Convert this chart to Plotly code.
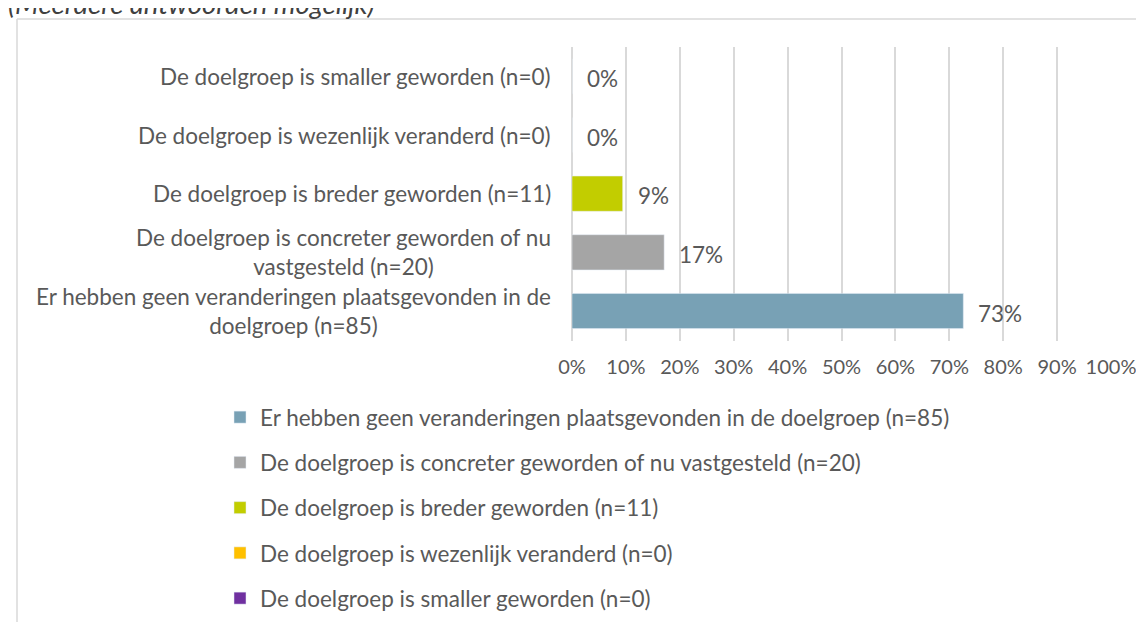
import plotly.graph_objects as go

# ── Data ──────────────────────────────────────────────────────────────────────
# bottom-to-top order, same as the legend order
categories = [
    "Er hebben geen veranderingen plaatsgevonden in de doelgroep (n=85)",
    "De doelgroep is concreter geworden of nu vastgesteld (n=20)",
    "De doelgroep is breder geworden (n=11)",
    "De doelgroep is wezenlijk veranderd (n=0)",
    "De doelgroep is smaller geworden (n=0)",
]
axis_labels = [
    "Er hebben geen veranderingen plaatsgevonden in de<br>doelgroep (n=85)",
    "De doelgroep is concreter geworden of nu<br>vastgesteld (n=20)",
    "De doelgroep is breder geworden (n=11)",
    "De doelgroep is wezenlijk veranderd (n=0)",
    "De doelgroep is smaller geworden (n=0)",
]
shares = [0.726, 0.171, 0.094, 0.0, 0.0]
bar_colors = ["#78A1B5", "#A5A5A5", "#C2CD00", "#FFC000", "#7030A0"]

subtitle = "(Meerdere antwoorden mogelijk)"

# ── Layout helpers (pixel -> paper) ───────────────────────────────────────────
W, H = 1144, 622
L, R, T, B = 564, 1103, 39, 333
FONT = "Lato"
FS = 22.5
TXT = "#595959"


def px_x(x):
    return (x - L) / (R - L)


def px_y(y):
    return (B - y) / (B - T)


fig = go.Figure()

for cat, val, col in zip(categories, shares, bar_colors):
    fig.add_trace(go.Bar(
        y=[cat], x=[val], orientation="h", name=cat,
        marker=dict(color=col), width=0.6, legendgroup=cat,
        hoverinfo="skip",
    ))

# value labels right of the bars
for cat, val in zip(categories, shares):
    fig.add_annotation(
        x=val, y=cat, xref="x", yref="y", text=f"{round(val * 100)}%",
        showarrow=False, xanchor="left", xshift=13, yshift=-2,
        font=dict(family=FONT, size=FS, color=TXT),
    )

# category labels, centred multi-line like the original
for cat, lab in zip(categories, axis_labels):
    fig.add_annotation(
        x=px_x(545), y=cat, xref="paper", yref="y", text=lab,
        showarrow=False, xanchor="right", align="center",
        font=dict(family=FONT, size=FS, color=TXT),
    )

# cut-off subtitle at the very top
fig.add_annotation(
    x=px_x(-2), y=px_y(14), xref="paper", yref="paper", text=f"<i>{subtitle}</i>",
    showarrow=False, xanchor="left", yanchor="bottom",
    font=dict(family=FONT, size=27.5, color="#404040"),
)

# chart area border (only top and left visible)
border = dict(color="#D9D9D9", width=1.5)
fig.add_shape(type="line", xref="paper", yref="paper",
              x0=px_x(9), x1=px_x(W + 5), y0=px_y(11), y1=px_y(11), line=border)
fig.add_shape(type="line", xref="paper", yref="paper",
              x0=px_x(9), x1=px_x(9), y0=px_y(11), y1=px_y(H + 5), line=border)

fig.update_layout(
    width=W, height=H,
    margin=dict(l=L, r=W - R, t=T, b=H - B, autoexpand=False),
    paper_bgcolor="white", plot_bgcolor="white",
    barmode="overlay",
    font=dict(family=FONT, size=FS, color=TXT),
    showlegend=True,
    legend=dict(
        orientation="v", x=px_x(212), xanchor="left", y=px_y(388), yanchor="top",
        font=dict(family=FONT, size=FS, color=TXT),
        tracegroupgap=13, bgcolor="rgba(0,0,0,0)",
    ),
    xaxis=dict(
        range=[0, 1], dtick=0.1, tick0=0, tickformat=".0%",
        showgrid=True, gridcolor="#D9D9D9", gridwidth=1.5,
        zeroline=True, zerolinecolor="#D9D9D9", zerolinewidth=1.5,
        showline=False, ticks="", ticklabelstandoff=12,
        tickfont=dict(family=FONT, size=20, color=TXT), fixedrange=True,
    ),
    yaxis=dict(
        categoryorder="array", categoryarray=categories,
        showticklabels=False, showgrid=False, zeroline=False, showline=False,
        ticks="", fixedrange=True,
    ),
)

fig.write_html("out.html")
